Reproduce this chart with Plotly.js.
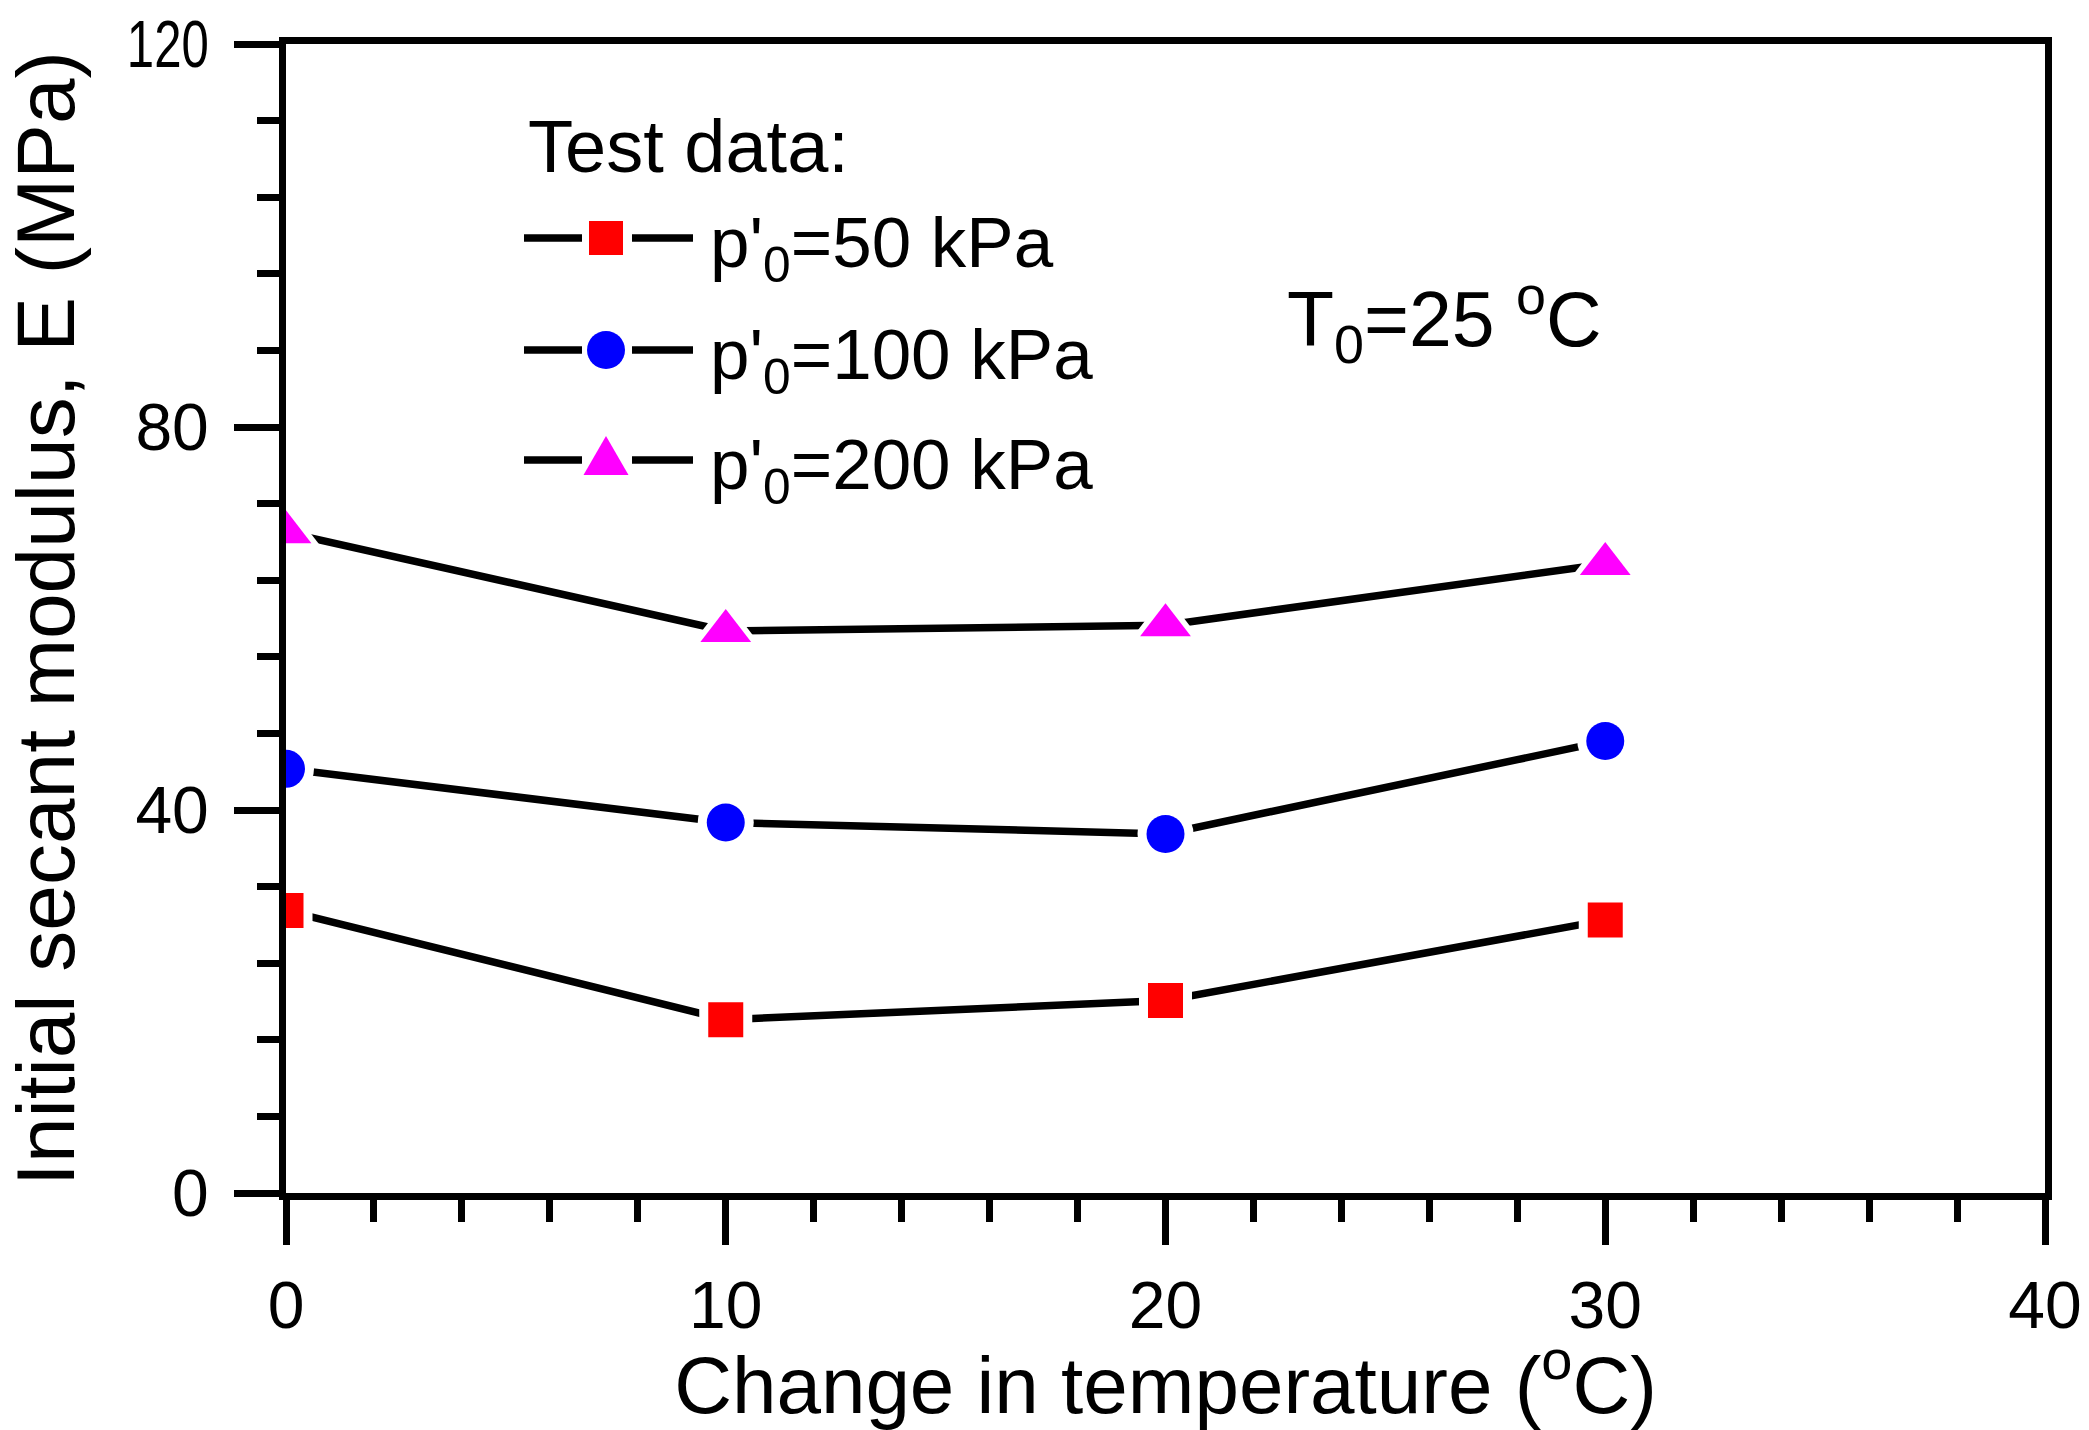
<!DOCTYPE html>
<html>
<head>
<meta charset="utf-8">
<script src="https://cdn.plot.ly/plotly-3.0.1.min.js"></script>
<style>html,body{margin:0;padding:0;background:#fff;}#chart{width:2089px;height:1430px;}</style>
</head>
<body>
<div id="chart"></div>
<script>
// ---- data ----
const tempChange = [0, 10, 20, 30];
const E_50kPa  = [29.5, 18.1, 20.1, 28.5];
const E_100kPa = [44.3, 38.7, 37.5, 47.2];
const E_200kPa = [69.0, 58.7, 59.3, 65.7];
const seriesNames = ["p'<sub>0</sub>=50 kPa", "p'<sub>0</sub>=100 kPa", "p'<sub>0</sub>=200 kPa"];
const xTickVals = [0, 10, 20, 30, 40];
const yTickVals = [0, 40, 80, 120];

// ---- geometry / styles ----
const W = 2089, H = 1430;
const M = {l: 286, r: 44, t: 44, b: 237};
const PW = W - M.l - M.r, PH = H - M.t - M.b;
const px = x => (x - M.l) / PW;
const py = y => (H - M.b - y) / PH;

const FONT = "Liberation Sans, Arial, sans-serif";

const styles = [
  {color: '#ff0000', symbol: 'square', size: 35},
  {color: '#0000ff', symbol: 'circle', size: 38},
  {color: '#ff00ff', symbol: 'triangle-up', size: 44}
];
const GAP = 9;
const LINE_W = 7.5;
const ys = [E_50kPa, E_100kPa, E_200kPa];

const traces = [];
ys.forEach((yv, i) => {
  const s = styles[i];
  // line with white halo markers (gives the gap between line and symbol)
  traces.push({
    x: tempChange, y: yv, type: 'scatter', mode: 'lines+markers',
    name: seriesNames[i], showlegend: false, hoverinfo: 'skip',
    line: {color: '#000', width: LINE_W},
    marker: {symbol: s.symbol, size: s.size + 2 * GAP, color: '#ffffff', line: {width: 0}}
  });
  traces.push({
    x: tempChange, y: yv, type: 'scatter', mode: 'markers',
    name: seriesNames[i], showlegend: false,
    marker: {symbol: s.symbol, size: s.size, color: s.color, line: {width: 0}}
  });
});

// ---- custom legend (shapes + text) ----
const legendRows = [238, 350, 460];
const legMarkX = 606, segL = [524, 582], segR = [632, 693];
const shapes = [];
const annotations = [];
legendRows.forEach((ry, i) => {
  [segL, segR].forEach(seg => shapes.push({
    type: 'line', xref: 'paper', yref: 'paper',
    x0: px(seg[0]), x1: px(seg[1]), y0: py(ry), y1: py(ry),
    line: {color: '#000', width: LINE_W}
  }));
  const c = styles[i].color;
  if (i === 0) {
    const h = 17;
    shapes.push({type: 'rect', xref: 'paper', yref: 'paper',
      x0: px(legMarkX - h), x1: px(legMarkX + h), y0: py(ry + h), y1: py(ry - h),
      fillcolor: c, line: {width: 0}});
  } else if (i === 1) {
    const h = 19;
    shapes.push({type: 'circle', xref: 'paper', yref: 'paper',
      x0: px(legMarkX - h), x1: px(legMarkX + h), y0: py(ry + h), y1: py(ry - h),
      fillcolor: c, line: {width: 0}});
  } else {
    const top = ry - 24, bot = ry + 15, hw = 22.5;
    shapes.push({type: 'path', xref: 'paper', yref: 'paper',
      path: `M ${px(legMarkX - hw)} ${py(bot)} L ${px(legMarkX + hw)} ${py(bot)} L ${px(legMarkX)} ${py(top)} Z`,
      fillcolor: c, line: {width: 0}});
  }
  annotations.push({
    xref: 'paper', yref: 'paper', x: px(708), y: py(ry + 10),
    xanchor: 'left', yanchor: 'middle', showarrow: false,
    text: seriesNames[i], font: {family: FONT, size: 71, color: '#000'}
  });
});
annotations.push({
  xref: 'paper', yref: 'paper', x: px(526), y: py(146),
  xanchor: 'left', yanchor: 'middle', showarrow: false,
  text: 'Test data:', font: {family: FONT, size: 74, color: '#000'}
});
annotations.push({
  xref: 'paper', yref: 'paper', x: px(1285), y: py(319),
  xanchor: 'left', yanchor: 'middle', showarrow: false,
  text: 'T<sub>0</sub>=25 <sup>o</sup>C', font: {family: FONT, size: 77, color: '#000'}
});

const axisCommon = {
  showgrid: false, zeroline: false, showline: true, linecolor: '#000', linewidth: 7,
  mirror: true, ticks: 'outside', ticklen: 45, tickwidth: 7, tickcolor: '#000',
  layer: 'above traces'
};

const layout = {
  width: W, height: H,
  margin: M,
  paper_bgcolor: '#fff', plot_bgcolor: '#fff',
  showlegend: false,
  xaxis: Object.assign({}, axisCommon, {
    range: [0, 40], tickmode: 'array', tickvals: xTickVals, ticktext: xTickVals.map(String),
    tickfont: {family: FONT, size: 66, color: '#000'},
    ticklabelstandoff: 4,
    minor: {dtick: 2, tick0: 0, ticks: 'outside', ticklen: 22, tickwidth: 7, tickcolor: '#000', showgrid: false},
    title: {text: 'Change in temperature (<sup>o</sup>C)', font: {family: FONT, size: 80, color: '#000'}, standoff: 7}
  }),
  yaxis: Object.assign({}, axisCommon, {
    range: [0, 120], tickmode: 'array', tickvals: yTickVals, ticktext: yTickVals.map(String),
    tickfont: {family: FONT, size: 66, color: '#000'},
    ticklabelstandoff: 12,
    minor: {dtick: 8, tick0: 0, ticks: 'outside', ticklen: 22, tickwidth: 7, tickcolor: '#000', showgrid: false},
    title: {text: 'Initial secant modulus, E (MPa)', font: {family: FONT, size: 82, color: '#000'}, standoff: 22}
  }),
  shapes: shapes,
  annotations: annotations
};

Plotly.newPlot('chart', traces, layout, {staticPlot: true, displayModeBar: false}).then(() => {
  // in the reference the three-digit y label is squeezed into the same width as the others
  const MAX_W = 82;
  document.querySelectorAll('#chart .ytick text').forEach(t => {
    const w = t.getComputedTextLength();
    if (w > MAX_W) {
      t.setAttribute('lengthAdjust', 'spacingAndGlyphs');
      t.setAttribute('textLength', MAX_W);
    }
  });
});
</script>
</body>
</html>
